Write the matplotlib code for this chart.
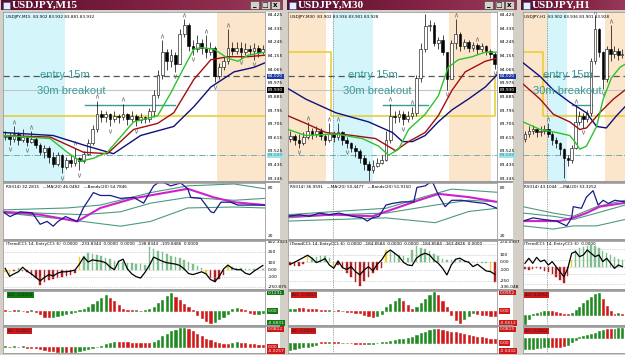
import numpy as np
import matplotlib
matplotlib.use("Agg")
import matplotlib.pyplot as plt
from matplotlib.patches import Rectangle
from matplotlib.colors import LinearSegmentedColormap

W, H = 625, 355

# ---------------- levels shared by the three charts ----------------
price_ticks = [84.425, 84.335, 84.245, 84.155, 84.065, 83.975, 83.885,
               83.795, 83.705, 83.615, 83.525, 83.435, 83.345]
entry_level = 84.02
bid_level = 83.93
support_level = 83.50
breakout_level = 83.83

# ---------------- USDJPY M15 ----------------
m15_open0 = 83.62
m15_close = [83.63, 83.61, 83.64, 83.60, 83.62, 83.59, 83.61, 83.57, 83.52, 83.55,
             83.49, 83.44, 83.50, 83.42, 83.47, 83.45, 83.48, 83.46, 83.51, 83.58,
             83.67, 83.77, 83.75, 83.77, 83.74, 83.76, 83.75, 83.77, 83.74, 83.76,
             83.73, 83.75, 83.74, 83.79, 83.90, 84.03, 84.18, 84.12, 84.16, 84.10,
             84.30, 84.36, 84.22, 84.20, 84.24, 84.21, 84.18, 84.21, 84.02, 84.08,
             84.12, 84.21, 84.19, 84.21, 84.18, 84.20, 84.19, 84.21, 84.18, 84.20]
m15_high = [83.66, 83.65, 83.69, 83.65, 83.67, 83.63, 83.66, 83.62, 83.58, 83.57,
            83.56, 83.52, 83.52, 83.51, 83.49, 83.50, 83.55, 83.49, 83.53, 83.61,
            83.70, 83.86, 83.80, 83.79, 83.78, 83.79, 83.77, 83.84, 83.78, 83.79,
            83.77, 83.78, 83.76, 83.81, 83.93, 84.06, 84.26, 84.20, 84.20, 84.18,
            84.33, 84.40, 84.37, 84.26, 84.29, 84.27, 84.29, 84.25, 84.22, 84.11,
            84.15, 84.33, 84.25, 84.25, 84.25, 84.24, 84.23, 84.24, 84.23, 84.23]
m15_low = [83.60, 83.57, 83.59, 83.57, 83.59, 83.56, 83.58, 83.55, 83.50, 83.48,
           83.45, 83.42, 83.43, 83.38, 83.41, 83.42, 83.43, 83.40, 83.45, 83.50,
           83.57, 83.65, 83.72, 83.72, 83.69, 83.72, 83.71, 83.73, 83.70, 83.72,
           83.69, 83.71, 83.71, 83.72, 83.75, 83.88, 84.00, 84.06, 84.08, 84.05,
           84.10, 84.28, 84.19, 84.16, 84.18, 84.17, 84.14, 84.16, 83.98, 84.00,
           84.06, 84.10, 84.16, 84.17, 84.14, 84.16, 84.16, 84.13, 84.15, 84.17]
m15_frac_up = [2, 6, 16, 21, 27, 36, 41, 46, 51]
m15_frac_dn = [1, 5, 13, 17, 24, 30, 39, 43, 48, 54, 57]
m15_green_x = [-0.5, 10.3, 14.2, 17.2, 20.2, 23.4, 29.4, 34.9, 37.9, 40.6, 43.2, 44.8, 47.8, 51.0, 53.3, 55.6, 59.5]
m15_green_y = [83.63, 83.61, 83.52, 83.46, 83.48, 83.52, 83.72, 83.76, 83.91, 84.06, 84.20, 84.21, 84.20, 84.14, 84.12, 84.16, 84.18]
m15_red_x = [-0.5, 10.3, 17.9, 23.4, 29.4, 34.9, 38.6, 43.2, 47.1, 51.0, 55.6, 59.5]
m15_red_y = [83.63, 83.62, 83.52, 83.51, 83.67, 83.71, 83.78, 84.00, 84.13, 84.15, 84.15, 84.16]
m15_navy_x = [-0.5, 11.0, 18.8, 24.8, 31.0, 38.6, 43.2, 47.1, 52.4, 57.0, 59.5]
m15_navy_y = [83.65, 83.63, 83.56, 83.51, 83.63, 83.69, 83.82, 83.95, 84.05, 84.08, 84.11]
m15_yellow_x = [-0.5, 59.5]
m15_yellow_y = [83.76, 83.76]
m15_rsi_x = [-0.5, 1.1, 3.4, 6.2, 8.0, 9.6, 11.0, 12.1, 13.8, 16.5, 17.9, 20.2, 21.8, 24.1, 26.4, 29.4,
             31.7, 34.0, 35.6, 37.9, 40.2, 41.8, 42.5, 44.8, 47.1, 47.8, 49.4, 51.6, 53.3, 55.6, 59.5]
m15_rsi = [50, 44, 50, 48.8, 34.4, 38, 32, 38, 44, 38, 54.8, 74, 70.4, 70.4, 66.8, 68,
           60.8, 82.4, 88.4, 82.4, 86, 78.8, 68, 66.8, 50, 48.8, 62, 62, 58.4, 58.4, 58.4]
m15_rsima_x = [-0.5, 8, 16.5, 21.8, 29.4, 35.6, 41.8, 47.8, 52.4, 59.5]
m15_rsima = [50, 46.4, 38, 54.8, 66.8, 72.8, 78.8, 68, 62, 58.4]
m15_bandu_x = [-0.5, 14.2, 21.8, 33.3, 41.8, 52.4, 59.5]
m15_bandu = [52.4, 54.8, 58.4, 74, 82.4, 84.8, 78.8]
m15_bandm_x = [-0.5, 17.9, 26.4, 33.3, 41.8, 52.4, 59.5]
m15_bandm = [50, 46.4, 50, 60.8, 68, 64.4, 66.8]
m15_bandl_x = [-0.5, 14.2, 26.4, 33.3, 41.8, 52.4, 59.5]
m15_bandl = [48.8, 40.4, 32, 38, 54.8, 56, 54.8]
m15_cci_hist = [-30, -75, -20, 30, -20, -30, -70, -120, -220, -180,
                -150, -140, -120, -110, -90, -70, -50, 180, 200, 240,
                230, 210, 190, 170, 150, 130, 120, 110, 100, 90,
                80, 80, 70, 320, 300, 270, 250, 220, 200, 180,
                160, 140, 110, 80, 50, 30, -60, -120, -175, -130,
                -80, 60, 40, 30, 20, 15, 10, 10, -10, 10]
m15_cci_col = "yyrgrrrrrr rrrrrrrygg gggggggggg gggggggggg ggggggyrrr rygggggggg"
m15_cci_line = [20, -95, -60, -30, 35, -20, -60, -110, -160, -110,
                -70, -90, -50, -30, -30, -20, -5, 80, 180, 110,
                140, 130, 120, 100, 40, 0, 120, 150, 10, -60,
                -100, -120, -40, 60, 180, 150, 120, 100, 90, 80,
                60, 10, -55, -70, -50, -30, -60, -140, -170, -100,
                10, 65, 20, 0, 0, -50, -70, -20, 20, 60]
m15_ao = [0.004, -0.003, 0.003, 0.004, -0.002, -0.004, 0.003, -0.005, -0.015, -0.03,
          -0.035, -0.03, -0.025, -0.02, -0.015, -0.01, -0.005, 0.005, 0.01, 0.02,
          0.035, 0.05, 0.07, 0.085, 0.07, 0.05, 0.03, 0.01, 0.005, 0.003,
          0.004, -0.003, 0.003, 0.008, 0.02, 0.04, 0.06, 0.08, 0.095, 0.075,
          0.055, 0.035, 0.02, 0.005, -0.02, -0.04, -0.055, -0.065, -0.06, -0.045,
          -0.03, -0.015, 0.01, 0.015, 0.01, 0.003, -0.01, -0.015, -0.015, -0.012]
m15_ao_col = "rgrgrrgrrr rggggggggg ggggrrrrrr grgggggggr rrrrrrrrgg ggggrrrrgg"
m15_ac = [0.002, -0.002, 0.003, -0.002, 0.002, -0.003, -0.003, -0.006, -0.01, -0.013,
          -0.016, -0.018, -0.02, -0.021, -0.02, -0.022, -0.02, -0.017, -0.013, -0.01,
          -0.006, -0.002, 0.005, 0.01, 0.015, 0.02, 0.02, 0.019, 0.019, 0.018,
          0.018, 0.017, 0.016, 0.015, 0.02, 0.03, 0.045, 0.055, 0.065, 0.072,
          0.078, 0.08, 0.075, 0.065, 0.055, 0.045, 0.035, 0.028, 0.022, 0.017,
          0.012, 0.01, 0.015, 0.02, 0.018, 0.015, 0.012, 0.01, 0.008, 0.006]
m15_ac_col = "grgrgrrrrr rrrgrrgggg ggggggrrrr rrrrgggggg ggrrrrrrrr rrggrrrrrr"

# ---------------- USDJPY M30 ----------------
m30_open0 = 83.61
m30_close = [83.63, 83.60, 83.58, 83.62, 83.66, 83.64, 83.66, 83.63, 83.60, 83.64,
             83.62, 83.65, 83.60, 83.58, 83.55, 83.53, 83.48, 83.44, 83.40, 83.43,
             83.45, 83.47, 83.60, 83.76, 83.75, 83.77, 83.74, 83.76, 83.78, 84.01,
             84.20, 84.35, 84.36, 84.24, 84.26, 84.18, 84.00, 84.24, 84.30, 84.22,
             84.25, 84.21, 84.23, 84.20, 84.22, 84.19, 84.17, 84.10]
m30_high = [83.66, 83.64, 83.64, 83.65, 83.72, 83.68, 83.69, 83.68, 83.64, 83.71,
            83.66, 83.71, 83.66, 83.62, 83.59, 83.57, 83.54, 83.50, 83.46, 83.47,
            83.48, 83.50, 83.66, 83.84, 83.79, 83.80, 83.79, 83.79, 83.82, 84.03,
            84.24, 84.43, 84.39, 84.38, 84.28, 84.29, 84.18, 84.26, 84.40, 84.31,
            84.27, 84.26, 84.25, 84.24, 84.24, 84.23, 84.20, 84.18]
m30_low = [83.59, 83.57, 83.55, 83.57, 83.61, 83.61, 83.62, 83.60, 83.57, 83.59,
           83.59, 83.60, 83.57, 83.55, 83.52, 83.49, 83.45, 83.40, 83.33, 83.38,
           83.42, 83.44, 83.46, 83.58, 83.71, 83.72, 83.70, 83.72, 83.74, 83.76,
           83.98, 84.18, 84.32, 84.22, 84.20, 84.16, 83.93, 84.04, 84.20, 84.19,
           84.20, 84.18, 84.19, 84.17, 84.18, 84.16, 84.14, 84.07]
m30_frac_up = [4, 9, 11, 23, 28, 31, 38, 43]
m30_frac_dn = [2, 13, 18, 26, 36, 47]
m30_green_x = [-0.5, 3.6, 10.5, 16.6, 20.3, 22.6, 24.9, 27.2, 31.0, 34.0, 36.3, 38.6, 41.8, 44.8, 47.5]
m30_green_y = [83.67, 83.63, 83.64, 83.61, 83.56, 83.50, 83.54, 83.67, 83.77, 83.89, 84.08, 84.13, 84.15, 84.18, 84.18]
m30_red_x = [-0.5, 3.6, 8.2, 14.4, 19.6, 24.2, 27.2, 31.0, 34.0, 37.2, 40.2, 44.8, 47.5]
m30_red_y = [83.76, 83.71, 83.65, 83.63, 83.61, 83.53, 83.59, 83.65, 83.76, 83.93, 84.05, 84.12, 84.14]
m30_navy_x = [-0.5, 3.6, 10.5, 18.0, 23.5, 25.8, 28.1, 31.0, 34.0, 37.2, 40.9, 44.8, 47.5]
m30_navy_y = [83.94, 83.87, 83.78, 83.72, 83.65, 83.59, 83.59, 83.63, 83.72, 83.80, 83.87, 83.95, 84.03]
m30_yellow_x = [-0.5, 9.3, 9.3, 47.0, 47.0, 47.5]
m30_yellow_y = [84.18, 84.18, 83.76, 83.76, 84.03, 84.03]
m30_rsi_x = [-0.5, 2.1, 4.4, 6.7, 9.0, 11.2, 14.3, 16.6, 17.7, 18.9, 20.4, 22.0, 23.4,
             25.7, 28.4, 29.1, 31.0, 32.6, 34.1, 35.6, 37.1, 39.4, 41.7, 44.8, 47.5]
m30_rsi = [44.4, 46.4, 44.4, 48.4, 46.4, 48.4, 44.4, 42.4, 38.4, 42.4, 44.4, 58.4, 60.4,
           62.4, 62.4, 80.4, 82.4, 88.4, 70.4, 56.4, 64.4, 64.4, 62.4, 60.4, 54.4]
m30_rsima_x = [-0.5, 10.5, 18.9, 24.2, 29.5, 34.1, 41.0, 47.5]
m30_rsima = [44.4, 46.4, 44.4, 54.4, 64.4, 72.4, 68.4, 62.4]
m30_bandu_x = [-0.5, 10.5, 22.0, 31.8, 37.1, 47.5]
m30_bandu = [46.4, 50.4, 54.4, 70.4, 78.4, 74.4]
m30_bandm_x = [-0.5, 10.5, 22.0, 33.3, 41.0, 47.5]
m30_bandm = [42.4, 46.4, 48.4, 58.4, 64.4, 62.4]
m30_bandl_x = [-0.5, 10.5, 22.0, 33.3, 41.0, 47.5]
m30_bandl = [38.4, 40.4, 42.4, 36.4, 50.4, 54.4]
m30_cci_hist = [-40, -55, -45, -30, 100, 60, 70, 80, 85, 60,
                -55, -40, -80, -140, -200, -270, -330, -260, -200, -150,
                -110, -80, 170, 150, 120, 100, 80, 60, 170, 215,
                200, 180, 150, 110, 80, 50, 35, 30, 30, 25,
                25, 20, 10, 8, -10, -15, -128, -265]
m30_cci_col = "rrrryggggg yrrrrrrrrr rryggggggg gggggggggg ggggggyr"
m30_cci_line = [-27, 0, 31, 63, 96, 55, -5, 18, 50, -37,
                -82, 18, -73, -100, -60, -128, -173, -105, -60, -118,
                -27, 31, 123, 168, 123, 77, 0, -37, -46, 55,
                100, 123, 100, 31, -14, -82, -173, -37, 41, 55,
                18, 0, -60, -27, -73, -118, -128, -164]
m30_ao = [0.01, 0.012, 0.015, 0.013, 0.012, 0.01, 0.008, 0.005, 0.003, 0.003,
          0.002, 0.003, 0.002, -0.003, -0.005, -0.008, -0.012, -0.018, -0.024, -0.028,
          -0.025, -0.015, 0.02, 0.035, 0.05, 0.065, 0.05, 0.03, 0.012, 0.02,
          0.04, 0.06, 0.08, 0.095, 0.08, 0.05, 0.02, -0.02, -0.045, -0.06,
          -0.04, -0.025, -0.01, -0.015, -0.02, -0.022, -0.023, -0.025]
m30_ao_col = "ggrrrrrrrg rrgrrrrrrr ggggggrrrg ggggrrrrrr gggrrrrr"
m30_ac = [-0.04, -0.035, -0.03, -0.025, -0.02, -0.015, -0.01, 0.005, 0.004, 0.003,
          0.004, 0.003, 0.002, 0.002, 0.002, -0.003, -0.005, -0.006, -0.005, -0.003,
          0.002, 0.005, 0.008, 0.012, 0.016, 0.02, 0.025, 0.03, 0.035, 0.045,
          0.055, 0.065, 0.075, 0.08, 0.078, 0.074, 0.07, 0.065, 0.06, 0.055,
          0.05, 0.045, 0.04, 0.035, 0.032, 0.028, 0.025, 0.02]
m30_ac_col = "gggggggrrg rrgrrrrrgg gggggggggg ggggrrrrrr rrrrrrrr"

# ---------------- USDJPY H1 ----------------
h1_open0 = 83.61
h1_close = [83.64, 83.66, 83.67, 83.65, 83.66, 83.67, 83.64, 83.60, 83.58, 83.54,
            83.48, 83.47, 83.55, 83.72, 83.76, 83.74, 83.78, 84.12, 84.33, 84.18,
            84.00, 84.20, 84.17, 84.19, 84.16, 84.17]
h1_high = [83.66, 83.69, 83.70, 83.68, 83.69, 83.70, 83.71, 83.65, 83.62, 83.59,
           83.55, 83.50, 83.57, 83.83, 83.79, 83.78, 83.80, 84.14, 84.42, 84.34,
           84.19, 84.22, 84.36, 84.22, 84.21, 84.20]
h1_low = [83.59, 83.62, 83.64, 83.62, 83.63, 83.64, 83.62, 83.57, 83.55, 83.50,
          83.35, 83.43, 83.45, 83.54, 83.70, 83.68, 83.72, 83.76, 84.10, 84.15,
          83.94, 83.98, 84.12, 84.14, 84.13, 84.14]
h1_frac_up = [6, 13, 18, 22]
h1_frac_dn = [10, 15, 20]
h1_green_x = [-0.5, 3.9, 8.1, 11.5, 12.8, 14.1, 15.8, 18.4, 20.1, 22.2, 24.4, 25.7]
h1_green_y = [83.72, 83.67, 83.65, 83.63, 83.59, 83.54, 83.56, 83.69, 83.87, 84.01, 84.08, 84.10]
h1_red_x = [-0.5, 3.9, 7.3, 11.5, 14.1, 15.8, 19.2, 22.7, 25.7]
h1_red_y = [83.97, 83.87, 83.77, 83.72, 83.67, 83.68, 83.78, 83.87, 83.93]
h1_navy_x = [-0.5, 3.9, 7.3, 11.5, 15.8, 18.4, 20.9, 23.5, 25.7]
h1_navy_y = [84.11, 84.02, 83.93, 83.85, 83.78, 83.69, 83.68, 83.76, 83.82]
h1_yellow_x = [-0.5, 4.6, 4.6, 25.7]
h1_yellow_y = [84.18, 84.18, 83.76, 83.76]
h1_rsi_x = [-0.5, 2.1, 4.7, 8.1, 10.7, 12.0, 12.4, 14.5, 15.8, 17.5, 18.8, 20.1, 21.4, 23.1, 25.7]
h1_rsi = [38.4, 42.4, 40.4, 38.4, 32.4, 42.4, 56.4, 54.4, 68.4, 76.4, 58.4, 64.4, 60.4, 64.4, 62.4]
h1_rsima_x = [-0.5, 8.8, 12.4, 15.8, 19.2, 25.7]
h1_rsima = [38.4, 38.4, 42.4, 48.4, 56.4, 61.2]
h1_bandu_x = [-0.5, 7.3, 12.4, 18.4, 25.7]
h1_bandu = [56.4, 48.4, 44.4, 56.4, 64.4]
h1_bandm_x = [-0.5, 7.3, 12.4, 18.4, 25.7]
h1_bandm = [48.4, 44.4, 40.4, 48.4, 58.4]
h1_bandl_x = [-0.5, 7.3, 12.4, 18.4, 25.7]
h1_bandl = [32.4, 28.4, 32.4, 32.4, 40.4]
h1_cci_hist = [-40, -50, -30, -20, -40, -60, -80, -110, -150, -190,
               -237, -130, 100, 240, 260, 280, 300, 310, 300, 270,
               230, 200, 170, 140, 110, 90]
h1_cci_col = "rrrrrrrrrr rrygggggggg gggggg"
h1_cci_line = [48, 120, 48, 134, 72, 95, 24, 72, 0, -72,
               -143, -24, 191, 215, 143, 167, 238, 191, 143, 167,
               72, 120, 48, -24, 24, 0]
h1_ao = [-0.04, -0.02, 0.005, 0.01, 0.012, 0.015, 0.017, 0.015, 0.012, 0.01,
         0.005, 0.003, 0.01, 0.02, 0.035, 0.05, 0.065, 0.08, 0.09, 0.095,
         0.07, 0.04, 0.015, 0.005, 0.008, 0.005]
h1_ao_col = "gggggggrrr rrgggggggg rrrrgr"
h1_ac = [-0.05, -0.05, -0.048, -0.045, -0.045, -0.042, -0.04, -0.04, -0.042, -0.04,
         -0.035, -0.03, -0.02, -0.01, 0.005, 0.01, 0.015, 0.02, 0.025, 0.03,
         0.035, 0.04, 0.042, 0.04, 0.045, 0.045]
h1_ac_col = "gggggggrrr rggggggggg grrggg"

COLORS = {"g": "#1f8a1f", "r": "#d01818", "y": "#f0d020"}
CCI_COLORS = {"g": "#7fbf8f", "r": "#b02020", "y": "#f2d22a"}
PANELS = {"price": (12, 181), "rsi": (183, 239), "cci": (241, 289), "ao": (291, 325), "ac": (327, 353)}

fig = plt.figure(figsize=(6.25, 3.55), dpi=100, facecolor="#d4d0c8")
title_cmap = LinearSegmentedColormap.from_list("tb", ["#5a0f2e", "#7d1f40", "#9a3a5a"])


def px_axes(x0, y0, x1, y1, **kw):
    return fig.add_axes([x0 / W, 1 - y1 / H, (x1 - x0) / W, (y1 - y0) / H], **kw)


def fig_rect(x0, y0, x1, y1, **kw):
    fig.patches.append(Rectangle((x0 / W, 1 - y1 / H), (x1 - x0) / W, (y1 - y0) / H,
                                 transform=fig.transFigure, **kw))


def clean(ax, xlim, ylim):
    ax.set_xlim(*xlim)
    ax.set_ylim(*ylim)
    ax.set_xticks([])
    ax.set_yticks([])
    for s in ax.spines.values():
        s.set_linewidth(0.5)
        s.set_color("#8a8a8a")


def strip_text(ax, y, txt, fc=None, tc="black"):
    kw = {}
    if fc is not None:
        kw["bbox"] = dict(boxstyle="square,pad=0.15", fc=fc, ec="none")
    ax.annotate(txt, xy=(1, y), xycoords=("axes fraction", "data"), xytext=(2, 0),
                textcoords="offset points", fontsize=3.2, va="center", ha="left",
                color=tc, annotation_clip=False, **kw)


def colors_of(code, table):
    return [table[ch] for ch in code.replace(" ", "")]


def draw_window(win):
    fx0, fx1 = win["frame"]
    px0, px1 = win["plot"]
    sx1 = win["strip"] if win["strip"] else px1
    n = len(win["close"])
    xlim = (-0.5, win["xmax"])
    idx = np.arange(n)

    # title bar
    tax = px_axes(fx0 + 1, 0, fx1 - 1, 10)
    tax.imshow(np.linspace(0, 1, 64)[None, :], aspect="auto", cmap=title_cmap, extent=(0, 1, 0, 1))
    tax.set_xlim(0, 1)
    tax.set_ylim(0, 1)
    tax.axis("off")
    tax.add_patch(Rectangle((2 / (fx1 - fx0), 0.15), 7 / (fx1 - fx0), 0.7, fc="#e8eef8", ec="#3050a0", lw=0.4))
    tax.text(11 / (fx1 - fx0), 0.48, win["name"], color="white", fontsize=8, fontweight="bold",
             family="Liberation Serif", va="center", ha="left")
    if win["buttons"]:
        for k, g in enumerate(["_", "\u25a1", "x"]):
            bx = (fx1 - fx0 - 33 + k * 10.5) / (fx1 - fx0)
            tax.add_patch(Rectangle((bx, 0.12), 9 / (fx1 - fx0), 0.78, fc="#d4d0c8", ec="#404040", lw=0.4))
            tax.text(bx + 4.5 / (fx1 - fx0), 0.5, g, fontsize=5, fontweight="bold", ha="center", va="center")

    # client area and separators
    fig_rect(px0, 12, sx1, 353, fc="white", ec="none", zorder=-1)
    for y0, y1 in [(181, 183), (239, 241), (289, 291), (325, 327)]:
        fig_rect(px0, y0, sx1, y1, fc="#9c9c9c", ec="none", zorder=5)

    # ---- price panel ----
    y0, y1 = PANELS["price"]
    ax = px_axes(px0, y0, px1, y1)
    clean(ax, xlim, (83.33, 84.445))
    for a, b, col in win["spans"]:
        ax.axvspan(a, b, color=col, lw=0, zorder=0)
    c = np.array(win["close"])
    o = np.r_[win["open0"], c[:-1]]
    h = np.array(win["high"])
    l = np.array(win["low"])
    ax.plot(win["yellow_x"], win["yellow_y"], color="#e8cf3a", lw=1.2, zorder=1)
    ax.axhline(bid_level, color="#c4c4c4", lw=0.8, zorder=1)
    ax.axhline(entry_level, color="#555555", lw=0.9, ls=(0, (5, 3)), zorder=1)
    ax.axhline(support_level, color="#70b0b0", lw=0.7, ls="-.", zorder=1)
    ax.plot(win["brk"], [breakout_level] * 2, color="#3c9c9c", lw=1.0, zorder=2)
    ax.vlines(idx, l, h, colors="black", lw=0.5, zorder=3)
    up = c >= o
    ax.bar(idx, np.abs(c - o), bottom=np.minimum(o, c), width=0.62,
           color=np.where(up, "white", "black"), edgecolor="black", linewidth=0.4, zorder=4)
    fu = win["frac_up"]
    fd = win["frac_dn"]
    ax.scatter(fu, h[fu] + 0.028, marker=r"$\wedge$", s=9, c="#707070", lw=0, zorder=5)
    ax.scatter(fd, l[fd] - 0.028, marker=r"$\vee$", s=9, c="#707070", lw=0, zorder=5)
    ax.plot(win["navy_x"], win["navy_y"], color="#10107a", lw=1.0, zorder=5)
    ax.plot(win["red_x"], win["red_y"], color="#a01010", lw=1.0, zorder=5)
    ax.plot(win["green_x"], win["green_y"], color="#2cc42c", lw=1.0, zorder=5)
    for xv in win["vline"]:
        ax.axvline(xv, color="#555555", lw=0.5, ls=(0, (1, 1.5)), zorder=2)
    ax.text(win["txt_x"][0], 84.028, "entry 15m", color="#3a9a9a", fontsize=8,
            family="Liberation Sans", va="center", ha="left", zorder=6, clip_on=True)
    ax.text(win["txt_x"][1], 83.922, "30m breakout", color="#3a9a9a", fontsize=8,
            family="Liberation Sans", va="center", ha="left", zorder=6, clip_on=True)
    ax.text(0.01, 0.985, win["info"], transform=ax.transAxes, fontsize=3, va="top", ha="left")
    if win["strip"]:
        for t in price_ticks:
            strip_text(ax, t, "%.3f" % t)
        strip_text(ax, entry_level, "84.020", fc="#1c3aa8", tc="white")
        strip_text(ax, bid_level, "83.930", fc="black", tc="white")
        strip_text(ax, support_level, "83.500", fc="#9fe6ea", tc="#2a8a90")

    # ---- RSI panel ----
    y0, y1 = PANELS["rsi"]
    ax = px_axes(px0, y0, px1, y1)
    clean(ax, xlim, (16, 86))
    for xv in win["vline"]:
        ax.axvline(xv, color="#555555", lw=0.5, ls=(0, (1, 1.5)))
    for bx, bv in win["bands"]:
        ax.plot(bx, bv, color="#4c9a80", lw=0.8)
    ax.plot(win["rsima_x"], win["rsima"], color="#cc22cc", lw=1.5)
    ax.plot(win["rsi_x"], win["rsi"], color="#1a1a8c", lw=0.9)
    ax.text(0.01, 0.96, win["rsi_info"], transform=ax.transAxes, fontsize=3, va="top", ha="left")
    if win["strip"]:
        strip_text(ax, 80, "80")
        strip_text(ax, 20, "20")

    # ---- CCI panel ----
    y0, y1 = PANELS["cci"]
    ax = px_axes(px0, y0, px1, y1)
    clean(ax, xlim, win["cci_ylim"])
    for lv in [250, 100, 0, -100, -250]:
        ax.axhline(lv, color="#b0b0b0", lw=0.5, ls=(0, (1, 1.5)))
    for xv in win["vline"]:
        ax.axvline(xv, color="#555555", lw=0.5, ls=(0, (1, 1.5)))
    cc = colors_of(win["cci_col"], CCI_COLORS)
    ax.bar(idx, win["cci_hist"], width=0.35, color=cc, edgecolor=cc, linewidth=0.3)
    ax.plot(idx, win["cci_line"], color="black", lw=0.9)
    ax.text(0.01, 0.97, "(TrendCCI: 14, EntryCCI: 6)  " + win["cci_info"], transform=ax.transAxes,
            fontsize=3, va="top", ha="left")
    if win["strip"]:
        for lv, lb in win["cci_labels"]:
            strip_text(ax, lv, lb)

    # ---- AO and AC panels ----
    for key, lab in [("ao", "AO"), ("ac", "AC")]:
        y0, y1 = PANELS[key]
        ax = px_axes(px0, y0, px1, y1)
        clean(ax, xlim, win[key + "_ylim"])
        for xv in win["vline"]:
            ax.axvline(xv, color="#555555", lw=0.5, ls=(0, (1, 1.5)))
        cc = colors_of(win[key + "_col"], COLORS)
        ax.bar(idx, win[key], width=0.5, color=cc, edgecolor=cc, linewidth=0.4)
        box = win[key + "_box"]
        ax.text(0.02, 0.93, lab + ": " + win[key + "_txt"], transform=ax.transAxes, fontsize=3,
                va="top", ha="left", color="#202020",
                bbox=dict(boxstyle="square,pad=0.25", fc=box, ec="none"))
        if win["strip"]:
            for lv, lb in win[key + "_labels"]:
                strip_text(ax, lv, lb, fc=box, tc="#f0f0f0")


CYAN = "#d4f6fb"
PEACH = "#fce6cb"

windows = [
    dict(name="USDJPY,M15", frame=(0, 284), plot=(3, 265), strip=280, buttons=True, xmax=59.5,
         info="USDJPY,M15  83.902 83.932 83.881 83.932",
         open0=m15_open0, close=m15_close, high=m15_high, low=m15_low,
         frac_up=m15_frac_up, frac_dn=m15_frac_dn,
         green_x=m15_green_x, green_y=m15_green_y, red_x=m15_red_x, red_y=m15_red_y,
         navy_x=m15_navy_x, navy_y=m15_navy_y, yellow_x=m15_yellow_x, yellow_y=m15_yellow_y,
         spans=[(-0.5, 13.7, CYAN), (48.6, 59.5, PEACH)], vline=[], brk=[18.3, 38.9], txt_x=[8.0, 7.3],
         rsi_x=m15_rsi_x, rsi=m15_rsi, rsima_x=m15_rsima_x, rsima=m15_rsima,
         bands=[(m15_bandu_x, m15_bandu), (m15_bandm_x, m15_bandm), (m15_bandl_x, m15_bandl)],
         rsi_info="RSI(14) 32.2815   \u2014MA(20) 46.0482   \u2014Bands(20) 54.7846",
         cci_hist=m15_cci_hist, cci_col=m15_cci_col, cci_line=m15_cci_line, cci_ylim=(-276, 410),
         cci_info="0.0000  -233.8344  0.0000  0.0000  -138.8344  -109.8486  0.0000",
         cci_labels=[(400, "402.3321"), (250, "250"), (100, "100"), (0, "0.00"), (-100, "-100"), (-250, "-250.875")],
         ao=m15_ao, ao_col=m15_ao_col, ao_ylim=(-0.075, 0.105), ao_box="#107a10", ao_txt="-0.0153",
         ao_labels=[(0.096, "0.1231"), (0.0, "0.00"), (-0.064, "-0.0831")],
         ac=m15_ac, ac_col=m15_ac_col, ac_ylim=(-0.026, 0.084), ac_box="#d01818", ac_txt="0.0061",
         ac_labels=[(0.075, "0.0812"), (0.0, "0.00"), (-0.018, "-0.0257")]),
    dict(name="USDJPY,M30", frame=(286, 518), plot=(288, 497), strip=513, buttons=True, xmax=47.5,
         info="USDJPY,M30  83.902 83.936 83.901 83.928",
         open0=m30_open0, close=m30_close, high=m30_high, low=m30_low,
         frac_up=m30_frac_up, frac_dn=m30_frac_dn,
         green_x=m30_green_x, green_y=m30_green_y, red_x=m30_red_x, red_y=m30_red_y,
         navy_x=m30_navy_x, navy_y=m30_navy_y, yellow_x=m30_yellow_x, yellow_y=m30_yellow_y,
         spans=[(-0.5, 8.3, PEACH), (9.8, 19.0, CYAN), (36.4, 46.1, PEACH)], vline=[9.8],
         brk=[21.3, 31.7], txt_x=[13.3, 12.1],
         rsi_x=m30_rsi_x, rsi=m30_rsi, rsima_x=m30_rsima_x, rsima=m30_rsima,
         bands=[(m30_bandu_x, m30_bandu), (m30_bandm_x, m30_bandm), (m30_bandl_x, m30_bandl)],
         rsi_info="RSI(14) 36.9591   \u2014MA(20) 50.4477   \u2014Bands(20) 51.9150",
         cci_hist=m30_cci_hist, cci_col=m30_cci_col, cci_line=m30_cci_line, cci_ylim=(-365, 290),
         cci_info="0.0000  -184.8584  0.0000  0.0000  -184.8584  -163.4826  0.0000",
         cci_labels=[(274, "274.0997"), (100, "100"), (0, "0.00"), (-100, "-100"), (-250, "-250"), (-336, "-336.048")],
         ao=m30_ao, ao_col=m30_ao_col, ao_ylim=(-0.07, 0.1), ao_box="#d01818", ao_txt="-0.0251",
         ao_labels=[(0.092, "0.0952"), (0.0, "0.00"), (-0.06, "-0.0612")],
         ac=m30_ac, ac_col=m30_ac_col, ac_ylim=(-0.057, 0.091), ac_box="#d01818", ac_txt="0.0203",
         ac_labels=[(0.078, "0.0815"), (0.0, "0.00"), (-0.045, "-0.0432")]),
    dict(name="USDJPY,H1", frame=(520, 627), plot=(523, 625), strip=None, buttons=False, xmax=25.7,
         info="USDJPY,H1  83.902 83.936 83.901 83.928",
         open0=h1_open0, close=h1_close, high=h1_high, low=h1_low,
         frac_up=h1_frac_up, frac_dn=h1_frac_dn,
         green_x=h1_green_x, green_y=h1_green_y, red_x=h1_red_x, red_y=h1_red_y,
         navy_x=h1_navy_x, navy_y=h1_navy_y, yellow_x=h1_yellow_x, yellow_y=h1_yellow_y,
         spans=[(-0.5, 5.65, PEACH), (5.65, 10.8, CYAN), (20.5, 25.7, PEACH)], vline=[5.65],
         brk=[12.1, 17.2], txt_x=[4.6, 2.1],
         rsi_x=h1_rsi_x, rsi=h1_rsi, rsima_x=h1_rsima_x, rsima=h1_rsima,
         bands=[(h1_bandu_x, h1_bandu), (h1_bandm_x, h1_bandm), (h1_bandl_x, h1_bandl)],
         rsi_info="RSI(14) 43.1044  \u2014MA(20) 53.3252",
         cci_hist=h1_cci_hist, cci_col=h1_cci_col, cci_line=h1_cci_line, cci_ylim=(-319, 367),
         cci_info="0.0000",
         cci_labels=[],
         ao=h1_ao, ao_col=h1_ao_col, ao_ylim=(-0.045, 0.105), ao_box="#d01818", ao_txt="0.0051",
         ao_labels=[],
         ac=h1_ac, ac_col=h1_ac_col, ac_ylim=(-0.068, 0.05), ac_box="#d01818", ac_txt="0.0452",
         ac_labels=[]),
]

for win in windows:
    draw_window(win)

fig.savefig("out.png", dpi=100, facecolor=fig.get_facecolor())
